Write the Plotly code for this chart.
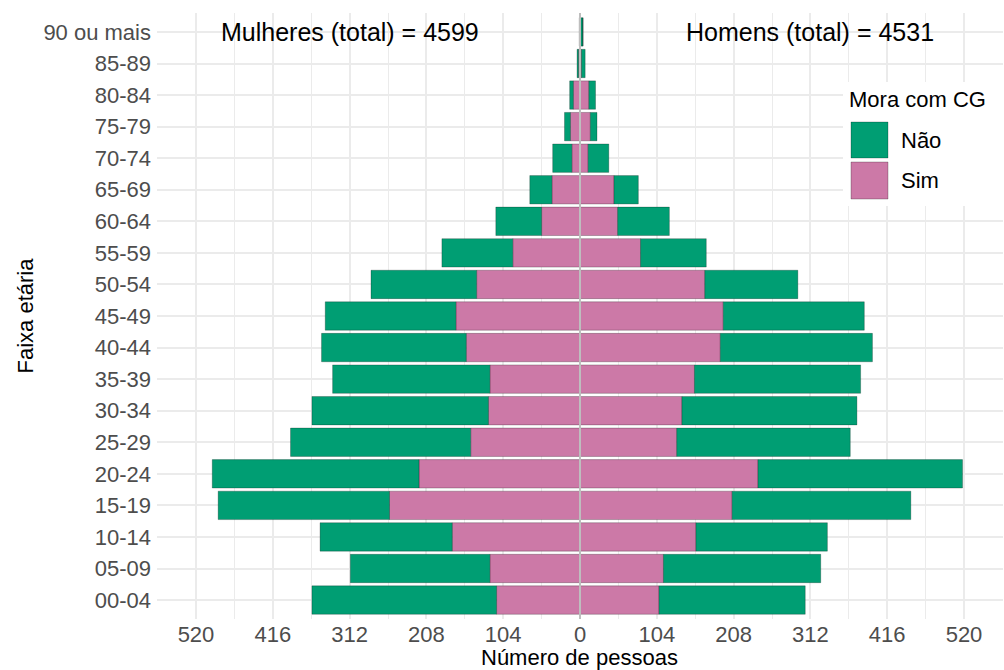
import plotly.graph_objects as go

# Age groups, bottom to top
faixas = ["00-04", "05-09", "10-14", "15-19", "20-24", "25-29", "30-34",
          "35-39", "40-44", "45-49", "50-54", "55-59", "60-64", "65-69",
          "70-74", "75-79", "80-84", "85-89", "90 ou mais"]

# Counts per age group (bottom to top)
mulheres_sim = [113, 122, 173, 258, 218, 148, 124, 122, 154, 168, 140, 91, 52, 38, 11, 13, 9, 2, 0]
mulheres_nao = [250, 189, 179, 232, 280, 244, 239, 213, 196, 177, 143, 96, 62, 30, 26, 8, 5, 2, 1]
homens_sim = [107, 113, 157, 206, 241, 131, 138, 155, 190, 194, 169, 82, 51, 46, 11, 14, 12, 2, 1]
homens_nao = [198, 213, 178, 242, 277, 235, 237, 225, 206, 191, 126, 89, 70, 33, 28, 9, 9, 5, 3]

total_mulheres = 4599
total_homens = 4531

tick_vals = [-520, -416, -312, -208, -104, 0, 104, 208, 312, 416, 520]
tick_text = [str(abs(v)) for v in tick_vals]

COR_NAO = "#009E73"
COR_SIM = "#CC79A7"
FONT = "Liberation Sans, Arial, sans-serif"

W, H = 1004, 670
PLOT_L, PLOT_R, PLOT_T, PLOT_B = 157, 1003, 13, 619
X_MAX = 572.8


def px(x):
    return (x - PLOT_L) / (PLOT_R - PLOT_L)


def py(y):
    return (PLOT_B - y) / (PLOT_B - PLOT_T)


fig = go.Figure()
edge = dict(width=0.7, color="rgba(0,0,0,0.35)")
fig.add_trace(go.Bar(y=faixas, x=homens_sim, orientation="h", name="Sim",
                     marker=dict(color=COR_SIM, line=edge)))
fig.add_trace(go.Bar(y=faixas, x=homens_nao, orientation="h", name="Não",
                     marker=dict(color=COR_NAO, line=edge)))
fig.add_trace(go.Bar(y=faixas, x=[-v for v in mulheres_sim], orientation="h", name="Sim",
                     marker=dict(color=COR_SIM, line=edge)))
fig.add_trace(go.Bar(y=faixas, x=[-v for v in mulheres_nao], orientation="h", name="Não",
                     marker=dict(color=COR_NAO, line=edge)))

fig.update_layout(
    width=W, height=H,
    margin=dict(l=PLOT_L, r=W - PLOT_R, t=PLOT_T, b=H - PLOT_B),
    paper_bgcolor="white", plot_bgcolor="white",
    barmode="relative", bargap=0.1,
    showlegend=False,
    font=dict(family=FONT, size=22, color="black"),
)

fig.update_xaxes(
    range=[-X_MAX, X_MAX], automargin=False,
    tickmode="array", tickvals=tick_vals, ticktext=tick_text,
    tickfont=dict(size=22, color="#4d4d4d"),
    showgrid=True, gridcolor="#ebebeb", gridwidth=1.6,
    minor=dict(tickmode="linear", tick0=0, dtick=52, showgrid=True,
               gridcolor="#ebebeb", gridwidth=1.0),
    zeroline=False, showline=False, ticks="",
)
fig.update_yaxes(
    type="category", categoryorder="array", categoryarray=faixas,
    range=[-0.6, len(faixas) - 0.4], automargin=False,
    tickfont=dict(size=22, color="#4d4d4d"), ticklabelstandoff=5,
    showgrid=True, gridcolor="#ebebeb", gridwidth=1.6,
    zeroline=False, showline=False, ticks="",
    title=dict(text="Faixa etária", font=dict(size=22, color="black"), standoff=3),
)

# x axis title, just under the tick labels
fig.add_annotation(xref="paper", yref="paper", x=px(579), y=py(657),
                   xanchor="center", yanchor="middle", text="Número de pessoas",
                   showarrow=False, font=dict(size=22, color="black"))

# zero reference line drawn over the bars
fig.add_shape(type="line", xref="x", yref="paper", x0=0, x1=0, y0=0, y1=1,
              line=dict(color="#bebebe", width=2), layer="above")

# totals
fig.add_annotation(x=-312, y="90 ou mais", xref="x", yref="y",
                   text=f"Mulheres (total) = {total_mulheres}", showarrow=False,
                   font=dict(size=25, color="black"))
fig.add_annotation(x=312, y="90 ou mais", xref="x", yref="y",
                   text=f"Homens (total) = {total_homens}", showarrow=False,
                   font=dict(size=25, color="black"))

# legend box
fig.add_shape(type="rect", xref="paper", yref="paper",
              x0=px(843), x1=px(1003), y0=py(206), y1=py(82),
              fillcolor="white", line=dict(width=0), layer="above")
fig.add_annotation(xref="paper", yref="paper", x=px(847), y=py(99),
                   xanchor="left", yanchor="middle", text="Mora com CG",
                   showarrow=False, font=dict(size=22, color="black"))
legend_items = [("Não", COR_NAO, 122, 158), ("Sim", COR_SIM, 162, 199)]
for label, color, top, bottom in legend_items:
    fig.add_shape(type="rect", xref="paper", yref="paper",
                  x0=px(851), x1=px(888), y0=py(bottom), y1=py(top),
                  fillcolor=color, line=dict(width=0.7, color="rgba(0,0,0,0.35)"),
                  layer="above")
    fig.add_annotation(xref="paper", yref="paper", x=px(899), y=py((top + bottom) / 2),
                       xanchor="left", yanchor="middle", text=label,
                       showarrow=False, font=dict(size=22, color="black"))

fig.write_html("out.html")
